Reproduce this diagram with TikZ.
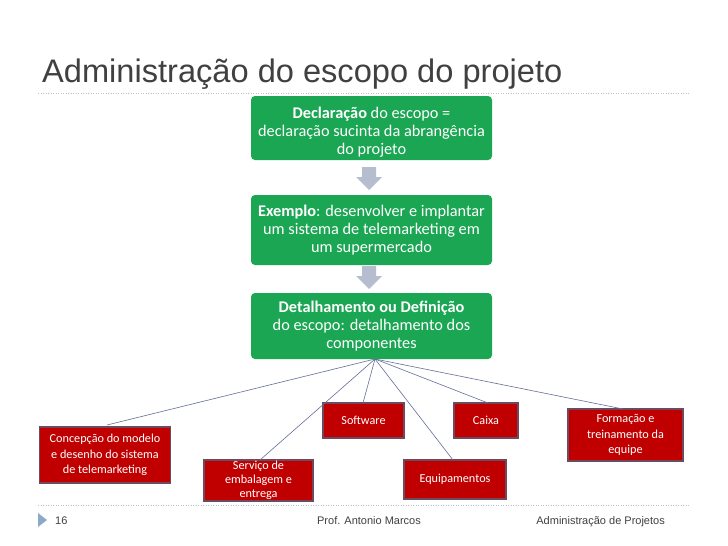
\documentclass[tikz,border=0pt]{standalone}
\usepackage{fontspec}
\setmainfont{Liberation Sans}
\newfontfamily\boxfont{Carlito}
\usetikzlibrary{positioning}
\definecolor{grn}{RGB}{26,166,82}
\definecolor{redbox}{RGB}{192,0,0}
\definecolor{redborder}{RGB}{110,74,94}
\definecolor{arrowgray}{RGB}{182,189,206}
\definecolor{linecol}{RGB}{100,110,150}
\definecolor{dotcol}{RGB}{180,195,210}
\definecolor{titlecol}{RGB}{64,64,64}
\definecolor{tri}{RGB}{140,170,200}
\tikzset{
  greenbox/.style={fill=grn, rounded corners=4pt, minimum width=241pt, text=white, align=center, font=\boxfont\fontsize{16.3}{18}\selectfont, inner sep=0pt},
  redbx/.style={fill=redbox, draw=redborder, line width=1.5pt, text=white, align=center, font=\boxfont\fontsize{12.2}{15.5}\selectfont, inner sep=0pt},
  conn/.style={draw=linecol, line width=0.6pt},
  dotline/.style={draw=dotcol, line width=0.8pt, dash pattern=on 1pt off 1.5pt},
  downarrow/.style={fill=arrowgray}
}
\begin{document}
\begin{tikzpicture}[x=1pt,y=-1pt]
\useasboundingbox (0,0) rectangle (728,546);
\fill[white] (0,0) rectangle (728,546);
% title
\node[anchor=base west, inner sep=0pt, text=titlecol, font=\fontsize{32.6}{34}\selectfont] (title) at (42,82) {Administração do escopo do projeto};
\draw[dotline] (38,93) -- (690,93);
\draw[dotline] (38,505) -- (690,505);
% green boxes
\node[greenbox, minimum height=64pt] (g1) at (371.5,128) {\raisebox{0pt}[\dimexpr\height+8pt\relax]{\textbf{Declaração} do escopo =}\\declaração sucinta da abrangência\\do projeto};
\node[greenbox, minimum height=70pt] (g2) at (371.5,230) {\textbf{Exemplo}: desenvolver e implantar\\um sistema de telemarketing em\\um supermercado};
\node[greenbox, minimum height=66pt] (g3) at (371.5,326) {\textbf{Detalhamento ou Definição}\\do escopo: detalhamento dos\\componentes};
% down arrows
\fill[downarrow] (362,167) -- (376,167) -- (376,177) -- (382,177) -- (369,190) -- (356,177) -- (362,177) -- cycle;
\fill[downarrow] (362,266) -- (376,266) -- (376,276) -- (382,276) -- (369,289) -- (356,276) -- (362,276) -- cycle;
% red boxes
\node[redbx, minimum width=131pt, minimum height=56pt] (r1) at (105,455) {Concepção do modelo\\e desenho do sistema\\de telemarketing};
\node[redbx, minimum width=109pt, minimum height=41pt, font=\boxfont\fontsize{12.2}{14}\selectfont] (r2) at (258.5,480.5) {Serviço de\\embalagem e\\entrega};
\node[redbx, minimum width=81pt, minimum height=35pt] (r3) at (363.5,420.5) {Software};
\node[redbx, minimum width=102pt, minimum height=39pt] (r4) at (455,479.5) {Equipamentos};
\node[redbx, minimum width=64pt, minimum height=35pt] (r5) at (486,420.5) {Caixa};
\node[redbx, minimum width=115pt, minimum height=52pt] (r6) at (625.5,435) {Formação e\\treinamento da\\equipe};
% connectors
\coordinate (src) at (375,359);
\draw[conn] (src) -- (107,425);
\draw[conn] (src) -- (260,460);
\draw[conn] (src) -- (363,403);
\draw[conn] (src) -- (453,460);
\draw[conn] (src) -- (488,403);
\draw[conn] (src) -- (623,409);
% footer
\fill[tri] (38,513) -- (47,520) -- (38,527) -- cycle;
\node[anchor=base west, inner sep=0pt, text=titlecol, font=\fontsize{11}{12}\selectfont] (pg) at (55,524) {16};
\node[anchor=base, inner sep=0pt, text=titlecol, font=\fontsize{11}{12}\selectfont] (author) at (369,524) {Prof. Antonio Marcos};
\node[anchor=base east, inner sep=0pt, text=titlecol, font=\fontsize{11}{12}\selectfont] (course) at (665,524) {Administração de Projetos};
\end{tikzpicture}
\end{document}
